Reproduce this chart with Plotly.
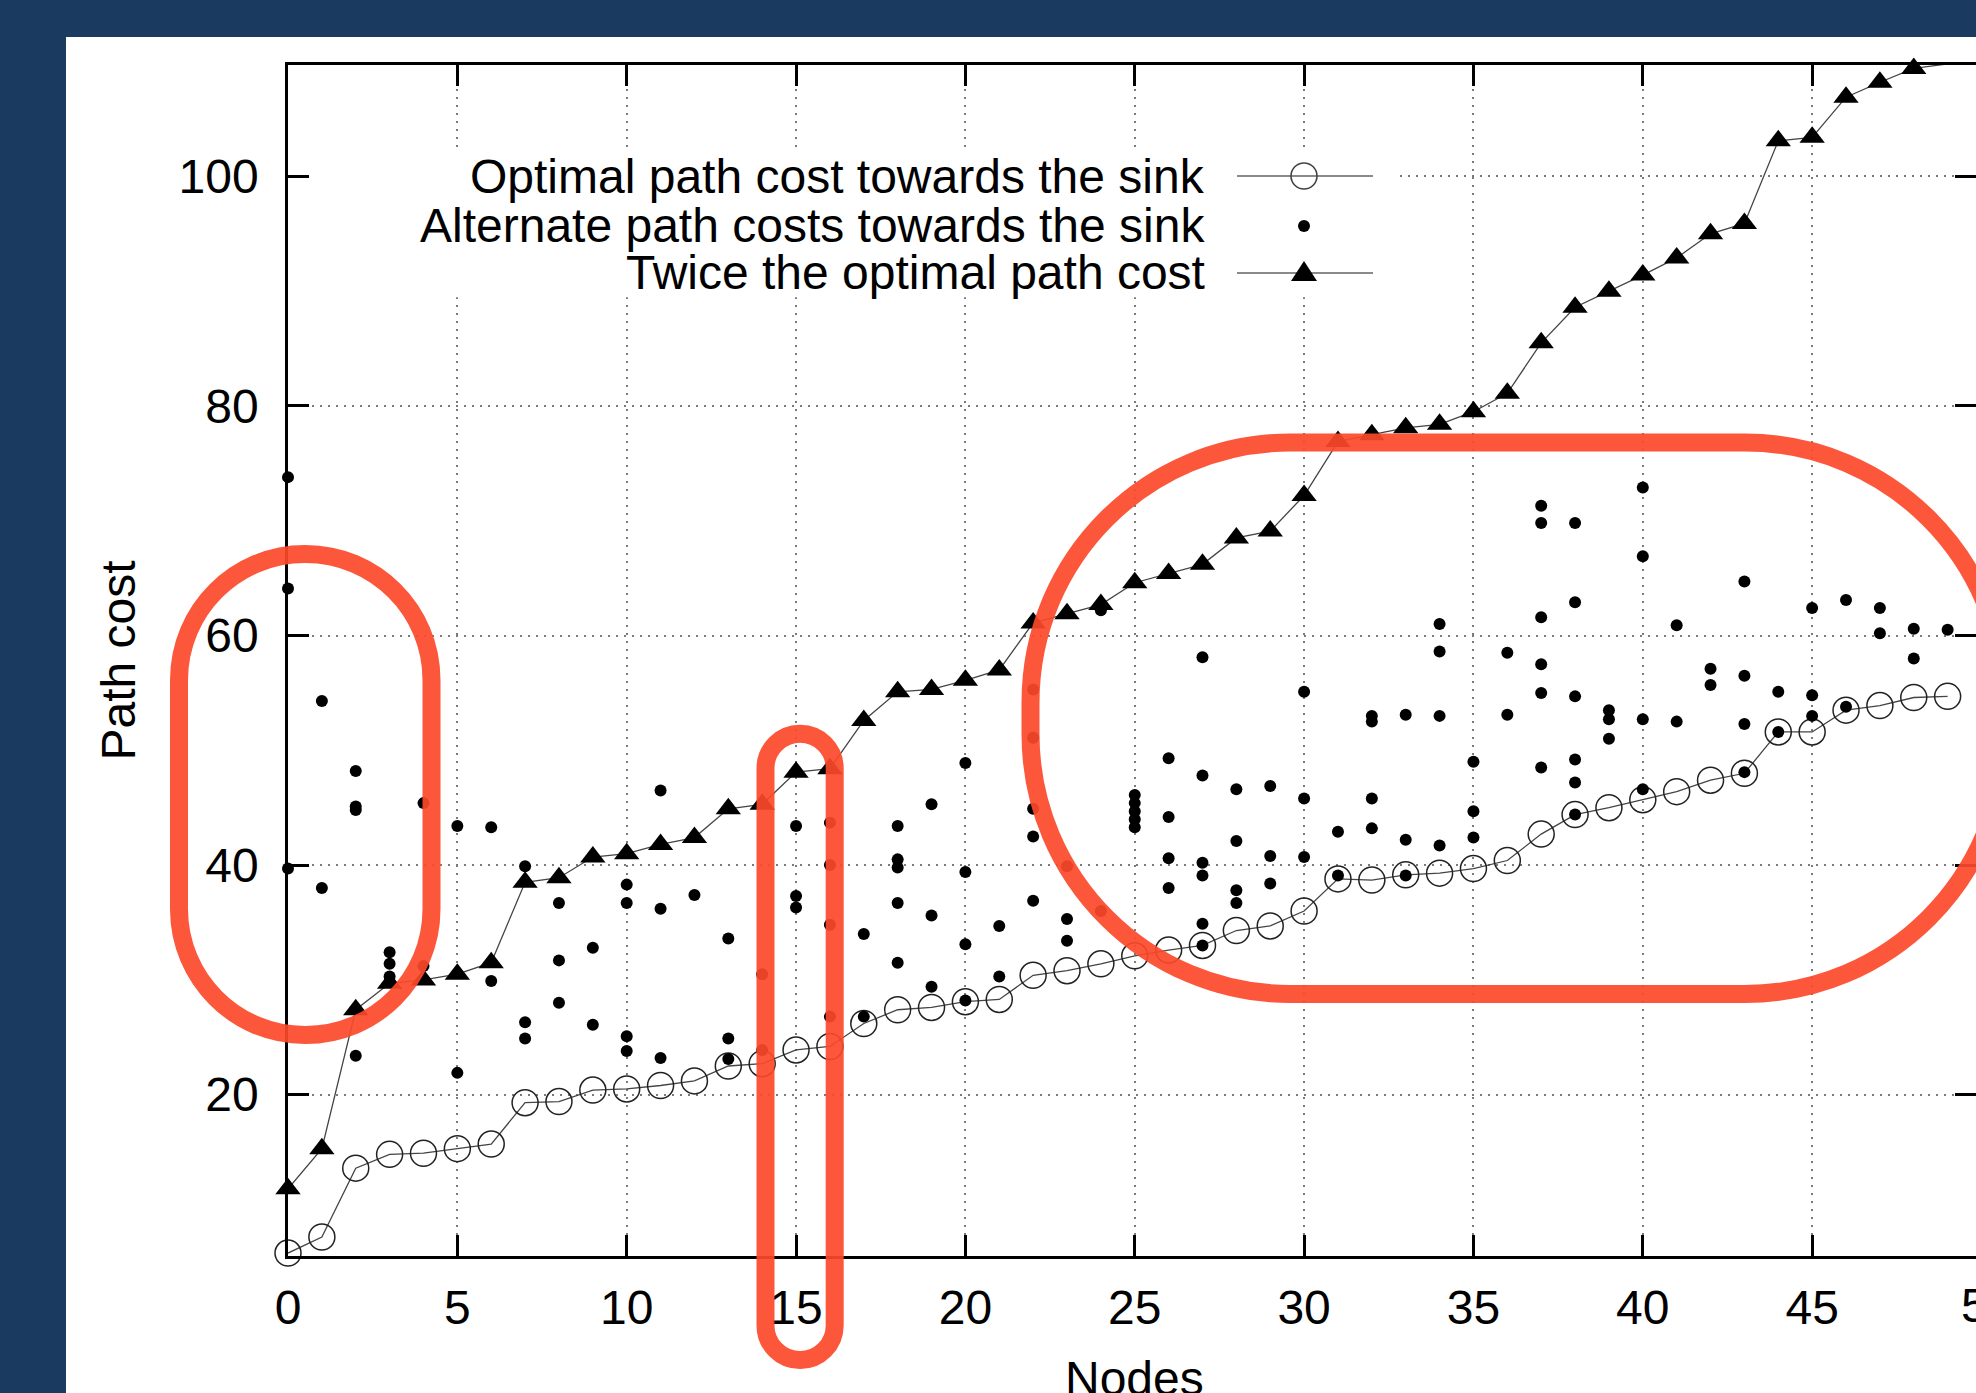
import plotly.graph_objects as go

# ---------------- data ----------------
nodes = list(range(50))

optimal_cost = [6.2, 7.6, 13.6, 14.8, 14.9, 15.3, 15.7, 19.3, 19.4, 20.4,
                20.5, 20.8, 21.2, 22.5, 22.7, 23.9, 24.2, 26.2, 27.4, 27.6,
                28.1, 28.3, 30.4, 30.8, 31.4, 32.1, 32.6, 33.0, 34.3, 34.7,
                36.0, 38.8, 38.7, 39.15, 39.3, 39.7, 40.4, 42.7, 44.4, 45.0,
                45.7, 46.4, 47.4, 48.0, 51.6, 51.6, 53.5, 53.9, 54.6, 54.7]

twice_optimal_cost = [11.8, 15.3, 27.4, 29.7, 30.0, 30.5, 31.5, 38.5, 38.9, 40.7,
                      41.0, 41.8, 42.4, 44.9, 45.3, 48.1, 48.4, 52.6, 55.1, 55.3,
                      56.1, 57.0, 61.1, 61.9, 62.7, 64.6, 65.4, 66.2, 68.5, 69.1,
                      72.2, 76.9, 77.5, 78.1, 78.4, 79.5, 81.1, 85.5, 88.6, 90.0,
                      91.4, 92.9, 95.0, 95.9, 103.1, 103.4, 106.9, 108.2, 109.4, 109.8]

alt_node = [0, 0, 0,
            1, 1,
            2, 2, 2, 2,
            3, 3, 3,
            4, 4,
            5, 5,
            6, 6,
            7, 7, 7,
            8, 8, 8,
            9, 9,
            10, 10, 10, 10,
            11, 11, 11,
            12,
            13, 13, 13,
            14, 14,
            15, 15, 15,
            16, 16, 16, 16,
            17, 17,
            18, 18, 18, 18, 18,
            19, 19, 19,
            20, 20, 20, 20,
            21, 21,
            22, 22, 22, 22, 22,
            23, 23, 23,
            24, 24,
            25, 25, 25, 25, 25,
            26, 26, 26, 26,
            27, 27, 27, 27, 27, 27,
            28, 28, 28, 28,
            29, 29, 29,
            30, 30, 30,
            31, 31,
            32, 32, 32, 32,
            33, 33, 33,
            34, 34, 34, 34,
            35, 35, 35,
            36, 36,
            37, 37, 37, 37, 37, 37,
            38, 38, 38, 38, 38, 38,
            39, 39, 39,
            40, 40, 40, 40,
            41, 41,
            42, 42,
            43, 43, 43, 43,
            44, 44,
            45, 45, 45,
            46, 46,
            47, 47,
            48, 48,
            49]

alt_cost = [73.8, 64.1, 39.7,
            54.3, 38.0,
            48.2, 45.1, 44.8, 23.4,
            32.4, 31.4, 30.3,
            45.4, 31.2,
            43.4, 21.9,
            43.3, 29.9,
            39.9, 26.3, 24.9,
            36.7, 31.7, 28.0,
            32.8, 26.1,
            38.3, 36.7, 25.1, 23.8,
            46.5, 36.2, 23.2,
            37.4,
            33.6, 24.9, 23.1,
            30.5, 23.9,
            43.4, 37.3, 36.3,
            43.7, 40.0, 34.8, 26.8,
            34.0, 26.8,
            43.4, 40.5, 39.8, 36.7, 31.5,
            45.3, 35.6, 29.4,
            48.9, 39.4, 33.1, 28.2,
            34.7, 30.3,
            55.3, 51.1, 44.9, 42.5, 36.9,
            39.9, 35.3, 33.4,
            62.2, 36.0,
            46.1, 45.4, 44.7, 44.0, 43.3,
            49.3, 44.2, 40.6, 38.0,
            58.1, 47.8, 40.2, 39.1, 34.9, 33.0,
            46.6, 42.1, 37.8, 36.7,
            46.9, 40.8, 38.4,
            55.1, 45.8, 40.7,
            42.9, 39.1,
            53.0, 52.5, 45.8, 43.2,
            53.1, 42.2, 39.1,
            61.0, 58.6, 53.0, 41.7,
            49.0, 44.7, 42.4,
            58.5, 53.1,
            71.3, 69.8, 61.6, 57.5, 55.0, 48.5,
            69.8, 62.9, 54.7, 49.2, 47.2, 44.4,
            53.5, 52.7, 51.0,
            72.9, 66.9, 52.7, 46.6,
            60.9, 52.5,
            57.1, 55.7,
            64.7, 56.5, 52.3, 48.1,
            55.1, 51.6,
            62.4, 54.8, 53.0,
            63.1, 53.8,
            62.4, 60.2,
            60.6, 58.0,
            60.5]

legend_labels = ["Optimal path cost towards the sink",
                 "Alternate path costs towards the sink",
                 "Twice the optimal path cost"]

x_title = "Nodes"
y_title = "Path cost"
x_ticks = [0, 5, 10, 15, 20, 25, 30, 35, 40, 45]
x_tick_beyond = 50          # the last tick sits just past the cropped right edge
y_ticks = [20, 40, 60, 80, 100]

# ---------------- layout geometry (pixels) ----------------
FIG_W, FIG_H = 1976, 1393
L, R, T, B = 288, 1976, 65, 1256
W, H = R - L, B - T
X_UNIT = 33.87              # px per node
FS = 48                     # text size


def pxx(x):
    return (x - L) / W


def pxy(y):
    return (B - y) / H


FONT = "Liberation Sans, Arial, Helvetica, sans-serif"
NAVY = "#1b3a5f"
HILITE = "rgba(252,72,42,0.92)"

x_max = (R - L) / X_UNIT
y_min = 20 - (B - 1094.8) / 11.47
y_max = 100 + (176.3 - T) / 11.47

fig = go.Figure()

fig.add_trace(go.Scatter(
    x=nodes, y=optimal_cost, mode="lines+markers", name=legend_labels[0],
    line=dict(color="#444444", width=1.3),
    marker=dict(symbol="circle-open", size=26, color="#222222",
                line=dict(width=1.5)),
    cliponaxis=False, showlegend=False))

fig.add_trace(go.Scatter(
    x=alt_node, y=alt_cost, mode="markers", name=legend_labels[1],
    marker=dict(symbol="circle", size=12, color="black", line=dict(width=0)),
    cliponaxis=False, showlegend=False))

fig.add_trace(go.Scatter(
    x=nodes, y=twice_optimal_cost, mode="lines+markers", name=legend_labels[2],
    line=dict(color="#444444", width=1.3),
    marker=dict(symbol="triangle-up", size=22, color="black", line=dict(width=0)),
    cliponaxis=False, showlegend=False))

shapes = []
# white panel over the navy page
shapes.append(dict(type="rect", xref="paper", yref="paper",
                   x0=pxx(66), x1=pxx(FIG_W + 20), y0=pxy(FIG_H + 20), y1=pxy(37),
                   fillcolor="white", line=dict(width=0), layer="below"))
# opaque legend box (hides the grid behind the key), in axis units
shapes.append(dict(type="rect", xref="x", yref="y",
                   x0=(300 - L) / X_UNIT, x1=(1400 - L) / X_UNIT,
                   y0=20 + (1094.8 - 298) / 11.47, y1=20 + (1094.8 - 150) / 11.47,
                   fillcolor="white", line=dict(width=0), layer="between"))

# manual key (text on the left, sample on the right, gnuplot style)
rows_y = [176, 226, 273]
sample_x0, sample_x1, sample_xc = 1237, 1373, 1304
annotations = []
for i, (lab, ry) in enumerate(zip(legend_labels, rows_y)):
    annotations.append(dict(text=lab, xref="paper", yref="paper",
                            x=pxx(1207), y=pxy(ry), xanchor="right", yanchor="middle",
                            showarrow=False, font=dict(family=FONT, size=FS, color="black")))
    if i != 1:
        shapes.append(dict(type="line", xref="paper", yref="paper",
                           x0=pxx(sample_x0), x1=pxx(sample_x1), y0=pxy(ry), y1=pxy(ry),
                           line=dict(color="#8a8a8a", width=2.2), layer="above"))
shapes.append(dict(type="circle", xref="paper", yref="paper",
                   x0=pxx(sample_xc - 13), x1=pxx(sample_xc + 13),
                   y0=pxy(rows_y[0] + 13), y1=pxy(rows_y[0] - 13),
                   fillcolor="rgba(0,0,0,0)", line=dict(color="#444444", width=1.6),
                   layer="above"))
shapes.append(dict(type="circle", xref="paper", yref="paper",
                   x0=pxx(sample_xc - 6), x1=pxx(sample_xc + 6),
                   y0=pxy(rows_y[1] + 6), y1=pxy(rows_y[1] - 6),
                   fillcolor="black", line=dict(width=0), layer="above"))
ty = rows_y[2]
tri = "M {:.5f},{:.5f} L {:.5f},{:.5f} L {:.5f},{:.5f} Z".format(
    pxx(sample_xc - 13), pxy(ty + 8), pxx(sample_xc + 13), pxy(ty + 8),
    pxx(sample_xc), pxy(ty - 12))
shapes.append(dict(type="path", xref="paper", yref="paper", path=tri,
                   fillcolor="black", line=dict(width=0), layer="above"))

# "50" tick label, cut by the right edge as in the reference
annotations.append(dict(text=str(x_tick_beyond), xref="paper", yref="paper",
                        x=pxx(L + x_tick_beyond * X_UNIT + 6), y=pxy(1305),
                        xanchor="center", yanchor="middle", showarrow=False,
                        font=dict(family=FONT, size=FS, color="black")))

# x axis title, placed low so that the bottom edge crops it as in the reference
annotations.append(dict(text=x_title, xref="paper", yref="paper",
                        x=0.5 * (pxx(L) + pxx(L + 50 * X_UNIT)), y=pxy(1350),
                        xanchor="center", yanchor="top", showarrow=False,
                        font=dict(family=FONT, size=FS, color="black")))


def rounded_rect(x0, y0, x1, y1, r):
    k = 0.5523 * r
    pts = [("M", (x0 + r, y0)),
           ("L", (x1 - r, y0)),
           ("C", (x1 - r + k, y0), (x1, y0 + r - k), (x1, y0 + r)),
           ("L", (x1, y1 - r)),
           ("C", (x1, y1 - r + k), (x1 - r + k, y1), (x1 - r, y1)),
           ("L", (x0 + r, y1)),
           ("C", (x0 + r - k, y1), (x0, y1 - r + k), (x0, y1 - r)),
           ("L", (x0, y0 + r)),
           ("C", (x0, y0 + r - k), (x0 + r - k, y0), (x0 + r, y0))]
    out = []
    for cmd, *ps in pts:
        out.append(cmd + " " + " ".join("{:.5f},{:.5f}".format(pxx(a), pxy(b)) for a, b in ps))
    return " ".join(out) + " Z"


# hand-drawn highlight outlines
for (x0, y0, x1, y1, r) in [(179, 554, 431.5, 1035, 126),
                            (765.5, 733.7, 834.7, 1360, 34.6),
                            (1030.5, 442.5, 2005, 994, 260)]:
    shapes.append(dict(type="path", xref="paper", yref="paper",
                       path=rounded_rect(x0, y0, x1, y1, r),
                       line=dict(color=HILITE, width=18), fillcolor="rgba(0,0,0,0)",
                       layer="above"))

axis_common = dict(showline=True, linecolor="black", linewidth=2.6, mirror="allticks",
                   ticks="inside", ticklen=21, tickwidth=2.6, tickcolor="black",
                   showgrid=True, gridcolor="#7a7a7a", gridwidth=1.5, griddash="2px,6px",
                   zeroline=False, tickfont=dict(family=FONT, size=FS, color="black"))

fig.update_xaxes(range=[0, x_max], tickvals=x_ticks, ticklabelstandoff=8,
                 **axis_common)
fig.update_yaxes(range=[y_min, y_max], tickvals=y_ticks, ticklabelstandoff=17,
                 title=dict(text=y_title, font=dict(family=FONT, size=FS, color="black"),
                            standoff=28),
                 **axis_common)

fig.update_layout(width=FIG_W, height=FIG_H,
                  margin=dict(l=L, r=FIG_W - R, t=T, b=FIG_H - B, autoexpand=False),
                  paper_bgcolor=NAVY, plot_bgcolor="white",
                  shapes=shapes, annotations=annotations, showlegend=False,
                  font=dict(family=FONT, color="black"))

fig.write_html("out.html")
